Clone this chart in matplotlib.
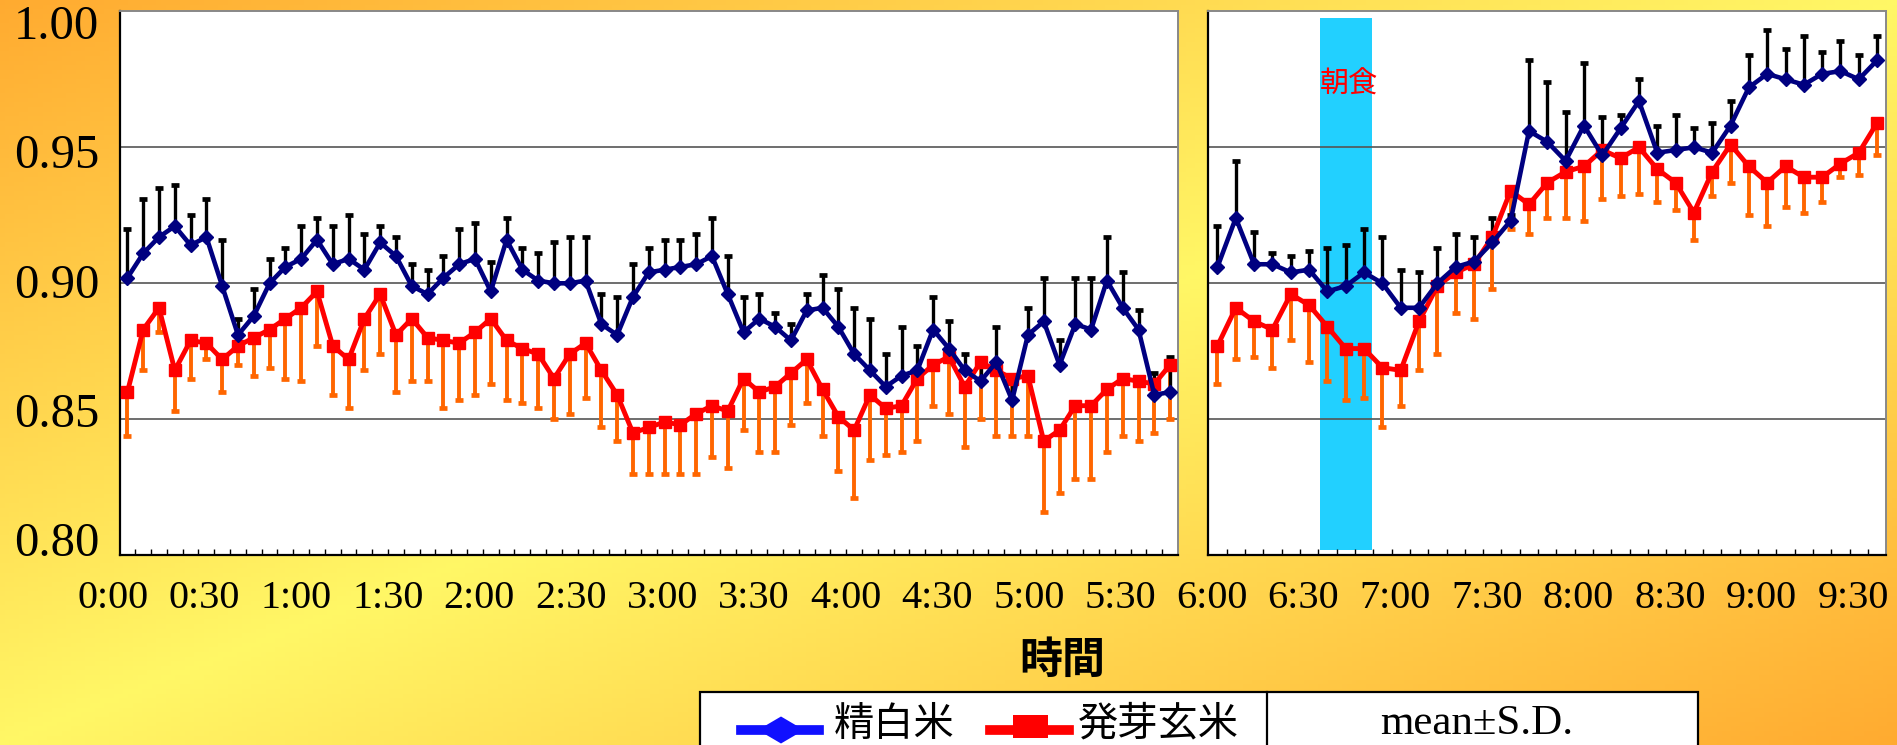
import numpy as np
import matplotlib
matplotlib.use("Agg")
import matplotlib.pyplot as plt
from matplotlib.patches import Rectangle, Polygon
from matplotlib.lines import Line2D
from matplotlib.transforms import Affine2D

# 0:00-5:30 (5 min steps), 精白米
white_am = [0.902, 0.911, 0.917, 0.921, 0.914, 0.917, 0.899, 0.881, 0.888, 0.900,
            0.906, 0.909, 0.916, 0.907, 0.909, 0.905, 0.915, 0.910, 0.899, 0.896,
            0.902, 0.907, 0.909, 0.897, 0.916, 0.905, 0.901, 0.900, 0.900, 0.901,
            0.885, 0.881, 0.895, 0.904, 0.905, 0.906, 0.907, 0.910, 0.896, 0.882,
            0.887, 0.884, 0.879, 0.890, 0.891, 0.884, 0.874, 0.868, 0.862, 0.866,
            0.868, 0.883, 0.876, 0.868, 0.864, 0.871, 0.857, 0.881, 0.886, 0.870,
            0.885, 0.883, 0.901, 0.891, 0.883, 0.859, 0.860]
white_am_sd = [0.018, 0.020, 0.018, 0.015, 0.011, 0.014, 0.017, 0.006, 0.010, 0.009,
               0.007, 0.012, 0.008, 0.014, 0.016, 0.013, 0.006, 0.007, 0.008, 0.009,
               0.008, 0.013, 0.013, 0.011, 0.008, 0.008, 0.010, 0.015, 0.017, 0.016,
               0.011, 0.014, 0.012, 0.009, 0.011, 0.010, 0.011, 0.014, 0.014, 0.013,
               0.009, 0.005, 0.006, 0.006, 0.012, 0.014, 0.017, 0.019, 0.012, 0.018,
               0.009, 0.012, 0.010, 0.006, 0.008, 0.013, 0.009, 0.010, 0.016, 0.009,
               0.017, 0.019, 0.016, 0.013, 0.007, 0.008, 0.013]
# 発芽玄米
brown_am = [0.860, 0.883, 0.891, 0.868, 0.879, 0.878, 0.872, 0.877, 0.880, 0.883,
            0.887, 0.891, 0.897, 0.877, 0.872, 0.887, 0.896, 0.881, 0.887, 0.880,
            0.879, 0.878, 0.882, 0.887, 0.879, 0.876, 0.874, 0.865, 0.874, 0.878,
            0.868, 0.859, 0.845, 0.847, 0.849, 0.848, 0.852, 0.855, 0.853, 0.865,
            0.860, 0.862, 0.867, 0.872, 0.861, 0.851, 0.846, 0.859, 0.854, 0.855,
            0.865, 0.870, 0.873, 0.862, 0.871, 0.868, 0.865, 0.866, 0.842, 0.846,
            0.855, 0.855, 0.861, 0.865, 0.864, 0.863, 0.870]
brown_am_sd = [0.016, 0.015, 0.009, 0.015, 0.014, 0.006, 0.012, 0.007, 0.014, 0.014,
               0.022, 0.027, 0.020, 0.018, 0.018, 0.019, 0.022, 0.021, 0.023, 0.016,
               0.025, 0.021, 0.023, 0.024, 0.022, 0.020, 0.020, 0.015, 0.022, 0.020,
               0.021, 0.017, 0.015, 0.017, 0.019, 0.018, 0.022, 0.019, 0.021, 0.019,
               0.022, 0.024, 0.019, 0.016, 0.017, 0.020, 0.025, 0.024, 0.017, 0.017,
               0.023, 0.015, 0.021, 0.022, 0.021, 0.024, 0.021, 0.022, 0.026, 0.023,
               0.027, 0.027, 0.023, 0.021, 0.022, 0.018, 0.020]

# 6:00-9:00
white_pm = [0.906, 0.924, 0.907, 0.907, 0.904, 0.905, 0.897, 0.899, 0.904, 0.900,
            0.891, 0.891, 0.900, 0.906, 0.908, 0.915, 0.923, 0.956, 0.952, 0.945,
            0.958, 0.947, 0.957, 0.967, 0.948, 0.949, 0.950, 0.948, 0.958, 0.972,
            0.977, 0.975, 0.973, 0.977, 0.978, 0.975, 0.982]
white_pm_sd = [0.015, 0.021, 0.012, 0.004, 0.006, 0.007, 0.016, 0.015, 0.016, 0.017,
               0.014, 0.013, 0.013, 0.012, 0.009, 0.009, 0.002, 0.026, 0.022, 0.018,
               0.023, 0.014, 0.005, 0.008, 0.010, 0.013, 0.007, 0.011, 0.009, 0.012,
               0.016, 0.011, 0.018, 0.008, 0.011, 0.009, 0.009]
brown_pm = [0.877, 0.891, 0.886, 0.883, 0.896, 0.892, 0.884, 0.876, 0.876, 0.869,
            0.868, 0.886, 0.899, 0.904, 0.907, 0.917, 0.934, 0.929, 0.937, 0.941,
            0.943, 0.949, 0.946, 0.950, 0.942, 0.937, 0.926, 0.941, 0.951, 0.943,
            0.937, 0.943, 0.939, 0.939, 0.944, 0.948, 0.959]
brown_pm_sd = [0.014, 0.019, 0.013, 0.014, 0.017, 0.021, 0.020, 0.019, 0.018, 0.022,
               0.013, 0.018, 0.025, 0.015, 0.020, 0.019, 0.014, 0.011, 0.013, 0.017,
               0.020, 0.018, 0.014, 0.017, 0.012, 0.010, 0.010, 0.009, 0.014, 0.018,
               0.016, 0.015, 0.013, 0.009, 0.005, 0.008, 0.012]

breakfast = (6, 8)  # index range in the 6:00- panel
time_labels = ["0:00", "0:30", "1:00", "1:30", "2:00", "2:30", "3:00", "3:30", "4:00", "4:30",
               "5:00", "5:30", "6:00", "6:30", "7:00", "7:30", "8:00", "8:30", "9:00", "9:30"]
y_labels = ["1.00", "0.95", "0.90", "0.85", "0.80"]

W, H = 1897, 745
CJK = ["Noto Sans CJK JP", "DejaVu Sans"]
SERIF = "Liberation Serif"
NAVY = "#000080"
ORANGE = "#FF6600"

fig = plt.figure(figsize=(W / 100, H / 100), dpi=100)
px = Affine2D().scale(1 / W, -1 / H).translate(0, 1) + fig.transFigure

# background gradient: orange corners (top-left, bottom-right), yellow across the diagonal
bg = fig.add_axes([0, 0, 1, 1], zorder=-10)
gx, gy = np.meshgrid(np.linspace(0, 1, 400), np.linspace(0, 1, 160))
s = np.abs(gx + gy - 1)[..., None]
orange = np.array([1.0, 0.67, 0.19])
yellow = np.array([1.0, 0.97, 0.40])
bg.imshow(yellow * (1 - s) + orange * s, aspect="auto", extent=[0, 1, 1, 0])
bg.set_xlim(0, 1)
bg.set_ylim(1, 0)
bg.axis("off")


def panel(rect, white, white_sd, brown, brown_sd):
    ax = fig.add_axes(rect)
    n = len(white)
    x = np.arange(n)
    white = np.array(white)
    brown = np.array(brown)
    top = white + np.array(white_sd)
    bot = brown - np.array(brown_sd)
    ax.vlines(x, brown, bot, color=ORANGE, lw=2.8, zorder=2)
    ax.plot(x, bot, ls="none", marker="_", ms=6.2, mew=3.4, color=ORANGE, zorder=2)
    ax.vlines(x, white, top, color="black", lw=2.4, zorder=2)
    ax.plot(x, top, ls="none", marker="_", ms=6.2, mew=3.4, color="black", zorder=2)
    ax.plot(x, brown, color="red", lw=3.5, marker="s", ms=8, zorder=3)
    ax.plot(x, white, color=NAVY, lw=3.3, marker="D", ms=7.5, zorder=4)
    ax.set_xlim(-0.5, n - 0.5)
    ax.set_ylim(0.80, 1.00)
    ax.set_facecolor("white")
    ax.set_yticks([0.85, 0.90, 0.95])
    ax.set_axisbelow(True)
    ax.grid(axis="y", color="#555555", lw=1.2, zorder=0.5)
    ax.tick_params(axis="y", length=0, labelleft=False)
    ax.set_xticks(np.arange(0.5, n - 0.5))
    ax.tick_params(axis="x", direction="in", length=4, width=1, labelbottom=False)
    for side in ("left", "bottom"):
        ax.spines[side].set_color("black")
        ax.spines[side].set_linewidth(1.6)
    for side in ("top", "right"):
        ax.spines[side].set_color("#888888")
        ax.spines[side].set_linewidth(1.4)
    return ax


ax1 = panel([119.5 / W, 1 - 555.3 / H, 1058.5 / W, 544 / H],
            white_am, white_am_sd, brown_am, brown_am_sd)
ax2 = panel([1208.3 / W, 1 - 555.3 / H, 678 / W, 544 / H],
            white_pm, white_pm_sd, brown_pm, brown_pm_sd)

ax2.axvspan(breakfast[0] - 0.43, breakfast[1] + 0.42, ymin=0.009, ymax=0.987,
            color="#22D0FF", lw=0, zorder=0.2)
ax2.text((breakfast[0] + breakfast[1]) / 2 + 0.2, 0.973, "朝食", color="red",
         ha="center", va="center", fontsize=21, family=CJK, zorder=5)

# axis labels placed as in the original slide
for k, lab in enumerate(y_labels):
    fig.text(99, 27 + 129.3 * k, lab, transform=px, ha="right", va="center",
             fontsize=35, family=SERIF)
for k, lab in enumerate(time_labels):
    fig.text(113 + 91.58 * k, 598, lab, transform=px, ha="center", va="center",
             fontsize=29, family=SERIF)
fig.text(1062, 660, "時間", transform=px, ha="center", va="center",
         fontsize=31, fontweight="bold", family=CJK)

# legend box
fig.add_artist(Rectangle((700, 692), 998, 80, transform=px, facecolor="white",
                         edgecolor="black", lw=1.6, clip_on=False))
fig.add_artist(Line2D([1267, 1267], [692, 760], transform=px, color="black", lw=1.6))
fig.add_artist(Line2D([741, 819], [730, 730], transform=px, color="#1010FF", lw=7))
fig.add_artist(Polygon([(758, 730), (781, 716.5), (804, 730), (781, 743.5)],
                       closed=True, transform=px, facecolor="#1010FF", edgecolor="none"))
fig.add_artist(Line2D([990, 1069], [730, 730], transform=px, color="red", lw=7))
fig.add_artist(Rectangle((1013, 715), 35, 23, transform=px, facecolor="red",
                         edgecolor="none"))
fig.text(834, 724, "精白米", transform=px, ha="left", va="center", fontsize=29, family=CJK)
fig.text(1078, 724, "発芽玄米", transform=px, ha="left", va="center", fontsize=29, family=CJK)
fig.text(1477, 724, "mean±S.D.", transform=px, ha="center", va="center",
         fontsize=31, family=SERIF)

fig.savefig("out.png", dpi=100)
